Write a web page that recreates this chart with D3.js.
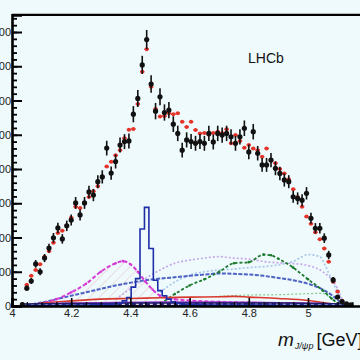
<!DOCTYPE html>
<html><head><meta charset="utf-8">
<script src="https://cdn.jsdelivr.net/npm/d3@7"></script>
<style>html,body{margin:0;padding:0;background:#eefafc;overflow:hidden}</style>
</head><body><svg id="c" width="360" height="360"></svg>
<script>
// ---- data ----
const binCenters = [4.035,4.05,4.065,4.08,4.095,4.11,4.125,4.14,4.155,4.17,4.185,4.2,4.215,4.23,4.245,4.26,4.275,4.29,4.305,4.32,4.335,4.35,4.365,4.38,4.395,4.41,4.425,4.44,4.455,4.47,4.485,4.5,4.515,4.53,4.545,4.56,4.575,4.59,4.605,4.62,4.635,4.65,4.665,4.68,4.695,4.71,4.725,4.74,4.755,4.77,4.785,4.8,4.815,4.83,4.845,4.86,4.875,4.89,4.905,4.92,4.935,4.95,4.965,4.98,4.995,5.01,5.025,5.04,5.055,5.07,5.085,5.1,5.115,5.13,5.145];
const dataCounts = [4,52,73,123,100,140,169,199,228,196,234,251,301,266,301,333,324,363,377,461,388,422,470,480,482,560,606,704,778,648,569,611,565,572,531,504,455,485,480,475,480,475,504,479,504,499,504,494,475,494,519,450,509,446,412,412,426,402,387,368,363,319,314,309,329,256,227,227,198,149,76,26,13,6,3];
const fitCounts = [5,62,88,105,122,144,160,185,213,220,235,258,290,286,300,318,335,350,378,407,421,440,455,490,515,517,590,684,750,640,575,553,555,563,560,563,538,523,538,514,504,505,500,505,509,505,516,475,499,482,462,470,460,455,436,460,426,417,400,387,370,341,318,290,261,240,215,195,168,129,71,42,15,5,2];
// narrow blue histogram component (same binning)
const narrowCounts = [0,1,1,1,1,2,2,2,2,2,3,3,3,3,3,3,4,4,4,5,5,6,8,15,25,55,80,225,288,168,75,45,30,20,12,8,6,5,5,4,4,4,3,3,3,3,3,3,3,3,3,3,3,3,3,3,3,2,2,2,2,2,2,2,2,2,2,2,2,2,1,1,0,0,0];
// broad components
const magentaMass = [4.05,4.1,4.15,4.2,4.25,4.3,4.35,4.375,4.4,4.425,4.45,4.475,4.5,4.55,4.6,4.7,4.8,4.9,5.0,5.1];
const magentaVals = [2,8,20,40,65,100,125,131,122,100,72,48,30,20,16,12,10,8,6,2];
const blueMass = [4.05,4.1,4.15,4.2,4.25,4.3,4.35,4.4,4.45,4.5,4.55,4.6,4.65,4.7,4.75,4.8,4.85,4.9,4.95,5.0,5.05,5.08,5.1,5.12];
const blueVals = [3,10,20,30,40,50,60,68,75,80,84,88,92,95,94,92,88,82,75,65,48,32,18,3];
const lavMass = [4.35,4.4,4.45,4.5,4.55,4.6,4.65,4.7,4.75,4.8,4.85,4.9,4.95,5.0,5.05,5.1,5.12];
const lavVals = [20,50,80,105,125,134,140,144,140,137,130,126,124,118,100,50,5];
const ltBlueMass = [4.5,4.55,4.6,4.65,4.7,4.75,4.8,4.85,4.9,4.95,5.0,5.04,5.06,5.075,5.1,5.12];
const ltBlueVals = [40,70,90,100,105,108,112,115,120,130,150,144,115,86,40,5];
const greenMass = [4.45,4.5,4.55,4.6,4.65,4.7,4.75,4.8,4.85,4.875,4.9,4.95,5.0,5.05,5.08,5.1,5.12];
const greenVals = [0,8,35,60,78,100,125,128,150,148,138,112,78,45,22,8,0];
const redLowMass = [4.05,4.1,4.2,4.3,4.4,4.5,4.6,4.7,4.75,4.8,4.9,5.0,5.05,5.1,5.12];
const redLowVals = [2,8,15,20,22,24,26,27,28,26,22,16,10,4,0];
const ltGreenMass = [4.7,4.8,4.9,5.0,5.05,5.08,5.1];
const ltGreenVals = [28,32,33,36,37,20,5];
const purpleMass = [4.05,4.1,4.2,4.3,4.4,4.5,4.6,4.7,4.8,4.9,5.0,5.1,5.12];
const purpleVals = [1,5,8,9,10,11,11,11,10,9,8,4,0];
const navyMass = [4.04,4.1,4.2,4.3,4.4,4.5,4.6,4.7,4.8,4.9,5.0,5.1,5.13];
const navyVals = [2,3,4,4,5,5,5,5,5,5,4,3,1];
const yTicks = [0,100,200,300,400,500,600,700,800];
const xTicks = [4,4.2,4.4,4.6,4.8,5,5.2];
const xTickLabels = ["4","4.2","4.4","4.6","4.8","5","5.2"];

// ---- drawing ----
const svg = d3.select("#c");
svg.append("rect").attr("width",360).attr("height",360).attr("fill","#eefafc");
const x = d3.scaleLinear().domain([4,5.2]).range([12,367.2]);
const y = d3.scaleLinear().domain([0,850]).range([306,14.9]);
const font = "Liberation Sans, Arial, sans-serif";

const defs = svg.append("defs");
const pat = defs.append("pattern").attr("id","hatch").attr("patternUnits","userSpaceOnUse")
  .attr("width",7).attr("height",7).attr("patternTransform","rotate(45)");
pat.append("line").attr("x1",0).attr("y1",0).attr("x2",0).attr("y2",7)
  .attr("stroke","#e07a8a").attr("stroke-width",0.7).attr("opacity",0.7);
defs.append("clipPath").attr("id","clip").append("rect").attr("x",12).attr("y",15).attr("width",355).attr("height",291);

const g = svg.append("g").attr("clip-path","url(#clip)");

// hatched area under magenta
const magPts = magentaMass.map((m,i)=>[m,magentaVals[i]]);
g.append("path").datum(magPts.filter(d=>d[0]>=4.2&&d[0]<=4.55))
  .attr("d", d3.area().x(d=>x(d[0])).y0(y(0)).y1(d=>y(d[1])).curve(d3.curveMonotoneX))
  .attr("fill","url(#hatch)");

function curve(mass, vals, color, width, dash, marker){
  const pts = mass.map((m,i)=>[m,vals[i]]);
  g.append("path").datum(pts)
    .attr("d", d3.line().x(d=>x(d[0])).y(d=>y(d[1])).curve(d3.curveMonotoneX))
    .attr("fill","none").attr("stroke",color).attr("stroke-width",width)
    .attr("stroke-dasharray",dash);
  if(marker){
    g.selectAll(null).data(pts).enter().append("circle")
      .attr("cx",d=>x(d[0])).attr("cy",d=>y(d[1])).attr("r",marker).attr("fill",color);
  }
}
curve(lavMass, lavVals, "#c6a8ea", 1.7, "2,2", 0);
curve(ltBlueMass, ltBlueVals, "#a9c6ec", 1.7, "2,2", 0);
curve(ltGreenMass, ltGreenVals, "#86c98a", 1.2, "2,2", 0);
curve(blueMass, blueVals, "#4d62c4", 2, "4,1.5", 0);
curve(greenMass, greenVals, "#1b7a2c", 1.8, "3,2", 1.3);
curve(magentaMass, magentaVals, "#d53ad6", 2, "4,2", 1.3);
curve(redLowMass, redLowVals, "#d8392c", 1.6, null, 0);
curve(purpleMass, purpleVals, "#9b3bc8", 2, null, 0);
curve(navyMass, navyVals, "#1d1d6a", 4, null, 0);
curve(navyMass, navyVals, "#ffffff", 1, "3,4", 0);

// narrow histogram (step)
const hb = binCenters.map((m,i)=>({m, v:narrowCounts[i]}));
let hd = "";
hb.forEach((d,i)=>{
  const x0 = x(d.m-0.0075), x1 = x(d.m+0.0075), yy = y(d.v);
  hd += (i===0 ? "M"+x0+","+yy : "L"+x0+","+yy) + "L"+x1+","+yy;
});
g.append("path").attr("d",hd).attr("fill","none").attr("stroke","#1f2fa8").attr("stroke-width",1.6);

// fit points (red)
const fit = binCenters.map((m,i)=>({m, v:fitCounts[i]}));
g.selectAll(null).data(fit).enter().append("line")
  .attr("x1",d=>x(d.m-0.0075)).attr("x2",d=>x(d.m+0.0075))
  .attr("y1",d=>y(d.v)).attr("y2",d=>y(d.v)).attr("stroke","#e5332a").attr("stroke-width",1.6);
g.selectAll(null).data(fit).enter().append("circle")
  .attr("cx",d=>x(d.m)).attr("cy",d=>y(d.v)).attr("r",2).attr("fill","#e5332a");

// data (black) with Poisson error bars
const dat = binCenters.map((m,i)=>({m, v:dataCounts[i]}));
g.selectAll(null).data(dat).enter().append("line")
  .attr("x1",d=>x(d.m)).attr("x2",d=>x(d.m))
  .attr("y1",d=>y(d.v+Math.sqrt(d.v))).attr("y2",d=>y(Math.max(0,d.v-Math.sqrt(d.v))))
  .attr("stroke","#111").attr("stroke-width",1.6);
g.selectAll(null).data(dat).enter().append("circle")
  .attr("cx",d=>x(d.m)).attr("cy",d=>y(d.v)).attr("r",2.6).attr("fill","#111");

// axes
const yMinor = d3.range(0,851,20);
svg.append("g").attr("transform","translate(12,0)")
  .call(d3.axisLeft(y).tickValues(yMinor).tickSize(-5).tickFormat(""))
  .call(s=>{s.select(".domain").remove(); s.selectAll("line").attr("stroke","#000").attr("stroke-width",1.8);});
svg.append("g").attr("transform","translate(12,0)")
  .call(d3.axisLeft(y).tickValues(yTicks).tickSize(-10).tickPadding(1).tickFormat(d3.format("d")))
  .call(s=>{
    s.select(".domain").attr("stroke","#000").attr("stroke-width",2.6);
    s.selectAll("line").attr("stroke","#000").attr("stroke-width",2);
    s.selectAll("text").attr("font-family",font).attr("font-size",11).attr("fill","#222");
  });
const xMinor = d3.range(4,5.201,0.05);
svg.append("g").attr("transform","translate(0,306)")
  .call(d3.axisBottom(x).tickValues(xMinor).tickSize(-4).tickFormat(""))
  .call(s=>{s.select(".domain").remove(); s.selectAll("line").attr("stroke","#000").attr("stroke-width",1.2);});
svg.append("g").attr("transform","translate(0,306)")
  .call(d3.axisBottom(x).tickValues(xTicks).tickSize(-8).tickPadding(3).tickFormat((d,i)=>xTickLabels[i]))
  .call(s=>{
    s.select(".domain").attr("stroke","#000").attr("stroke-width",2.6);
    s.selectAll("line").attr("stroke","#000").attr("stroke-width",1.6);
    s.selectAll("text").attr("font-family",font).attr("font-size",11).attr("fill","#222");
  });
// top frame
svg.append("line").attr("x1",x(4)).attr("x2",x(5.2)).attr("y1",y(850)).attr("y2",y(850))
  .attr("stroke","#000").attr("stroke-width",2.2);
svg.append("line").attr("x1",x(5.2)).attr("x2",x(5.2)).attr("y1",y(850)).attr("y2",y(0))
  .attr("stroke","#000").attr("stroke-width",2.2);

// labels
svg.append("text").attr("x",248).attr("y",63).attr("font-family",font).attr("font-size",14)
  .attr("fill","#111").text("LHCb");
const t = svg.append("text").attr("x",278).attr("y",346).attr("font-family",font).attr("fill","#111");
t.append("tspan").attr("font-size",19).attr("font-style","italic").text("m");
t.append("tspan").attr("font-size",9).attr("font-style","italic").attr("dy",3).attr("dx",1).text("J/ψp");
t.append("tspan").attr("font-size",18).attr("dy",-3).attr("dx",3).text("[GeV]");
</script></body></html>
